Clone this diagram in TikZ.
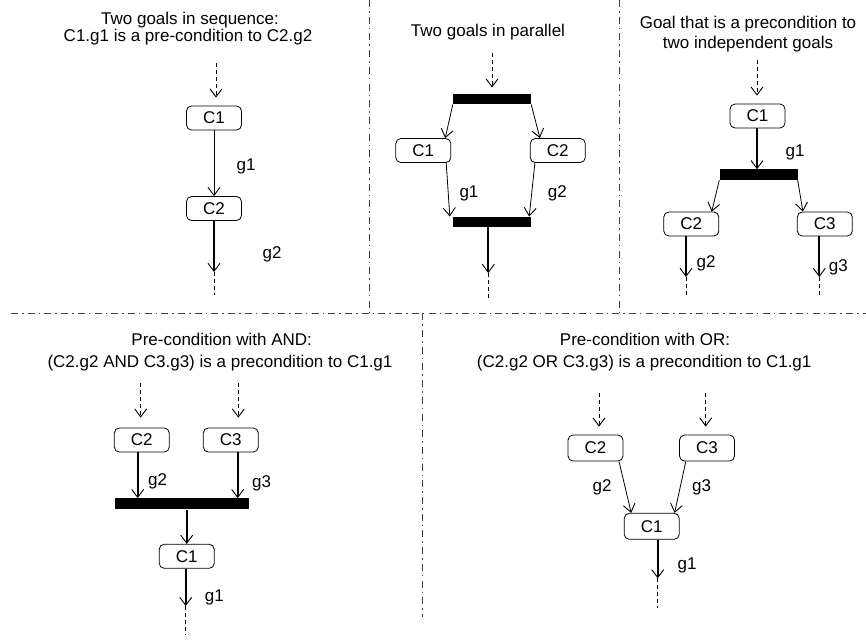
\documentclass[tikz,border=0pt]{standalone}
\usepackage{fontspec}
\setmainfont{Liberation Sans}
\usetikzlibrary{arrows.meta, positioning}

\begin{document}
\begin{tikzpicture}[x=1pt,y=-1pt,>={Straight Barb[length=8pt,width=12pt,line width=0.9pt]},
  font=\fontsize{17}{17}\selectfont,
  goal node/.style={draw,rounded corners=5pt,minimum width=55pt,minimum height=24pt,inner sep=0pt,line width=0.8pt},
  join bar/.style={fill=black,inner sep=0pt,minimum width=78pt,minimum height=10.5pt},
  flow/.style={->,line width=0.8pt},
  thick flow/.style={->,line width=1.8pt},
  in arrow/.style={->,line width=0.8pt,dash pattern=on 4pt off 3pt,shorten >=8pt},
  tail/.style={line width=0.8pt,dash pattern=on 4pt off 3pt},
  divider/.style={line width=1pt,black!75,dash pattern=on 7pt off 4pt on 1.5pt off 4.2pt},
  heading/.style={anchor=base,inner sep=0pt},
  every node/.append style={inner sep=0pt}]
  \useasboundingbox (0,0) rectangle (866,641);

  % dividers between the five cases
  \draw[divider] (11,313.3) -- (866,313.3);
  \draw[divider] (369,0) -- (369,313.3);
  \draw[divider] (619.5,0) -- (619.5,313.3);
  \draw[divider] (422.3,313.3) -- (422.3,617);

  % two goals in sequence
  \node[heading] (head1a) at (190,24) {Two goals in sequence:};
  \node[heading] (head1b) at (188,41.7) {C1.g1 is a pre-condition to C2.g2};
  \coordinate (sIn) at (216,63);
  \node[goal node] (sC1) at (214,118) {C1};
  \node[goal node] (sC2) at (214,208.5) {C2};
  \coordinate (sOut) at (214,272);
  \coordinate (sEnd) at (214,295);
  \draw[in arrow] (sIn) -- (sIn |- sC1.north);
  \path (sC1) edge[flow] node[pos=.55,xshift=32pt] {g1} (sC2);
  \path (sC2) edge[thick flow] node[pos=.65,xshift=58pt] {g2} (sOut);
  \draw[tail] (sOut) -- (sEnd);

  % two goals in parallel
  \node[heading] (head2) at (488,36.7) {Two goals in parallel};
  \coordinate (pIn) at (492,53);
  \node[join bar] (pTop) at (492,99) {};
  \node[goal node] (pC1) at (423.3,150.5) {C1};
  \node[goal node] (pC2) at (557.8,150.5) {C2};
  \node[join bar] (pBot) at (492,222) {};
  \coordinate (pOut) at (488.3,273);
  \coordinate (pEnd) at (488.3,298);
  \draw[in arrow,shorten >=6pt] (pIn) -- (pTop.north);
  \draw[flow] (pTop.south west) -- ([xshift=-6pt]pC1.north east);
  \draw[flow] (pTop.south east) -- ([xshift=10pt]pC2.north west);
  \path ([xshift=-5pt]pC1.south east) edge[flow] node[pos=.575,xshift=20.7pt] {g1} ([xshift=-3pt]pBot.north west);
  \path ([xshift=5pt]pC2.south west) edge[flow] node[pos=.575,xshift=25.7pt] {g2} ([xshift=-2pt]pBot.north east);
  \draw[thick flow] (pBot.south -| pOut) -- (pOut);
  \draw[tail] (pOut) -- (pEnd);

  % one goal before two independent goals
  \node[heading] (head3a) at (748,28.3) {Goal that is a precondition to};
  \node[heading] (head3b) at (748,48.3) {two independent goals};
  \coordinate (fIn) at (757,60);
  \node[goal node] (fC1) at (757.5,116) {C1};
  \node[join bar] (fBar) at (758.5,174.7) {};
  \node[goal node] (fC2) at (691.3,224) {C2};
  \node[goal node] (fC3) at (824.8,224) {C3};
  \coordinate (fOut2) at (686,277);
  \coordinate (fOut3) at (819.3,277);
  \draw[in arrow] (fIn) -- (fIn |- fC1.north);
  \path (fC1.south -| fIn) edge[thick flow] node[pos=.59,xshift=38pt] {g1} (fBar.north -| fIn);
  \draw[flow] (fBar.south west) -- ([xshift=-7.5pt]fC2.north east);
  \draw[flow] (fBar.south east) -- ([xshift=6pt]fC3.north west);
  \path (fC2.south -| fOut2) edge[thick flow] node[pos=.67,xshift=20pt] {g2} (fOut2);
  \path (fC3.south -| fOut3) edge[thick flow] node[pos=.76,xshift=19pt] {g3} (fOut3);
  \draw[tail] (fOut2) -- ++(0,18);
  \draw[tail] (fOut3) -- ++(0,18);

  % pre-condition with AND
  \node[heading] (head4a) at (221.7,345.7) {Pre-condition with AND:};
  \node[heading] (head4b) at (220,367.3) {(C2.g2 AND C3.g3) is a precondition to C1.g1};
  \coordinate (aIn2) at (140.7,383);
  \coordinate (aIn3) at (238.3,383);
  \node[goal node] (aC2) at (141.8,440) {C2};
  \node[goal node] (aC3) at (230.8,440) {C3};
  \node[join bar,minimum width=134pt,minimum height=11pt] (aBar) at (182.2,503.8) {};
  \node[goal node] (aC1) at (186.7,556.3) {C1};
  \coordinate (aOut) at (185.7,606);
  \coordinate (aEnd) at (185.7,635);
  \draw[in arrow,shorten >=10pt] (aIn2) -- (aIn2 |- aC2.north);
  \draw[in arrow,shorten >=10pt] (aIn3) -- (aIn3 |- aC3.north);
  \path (aC2.south -| 137.7,0) edge[thick flow] node[pos=.63,xshift=20pt] {g2} (aBar.north -| 137.7,0);
  \path (aC3.south -| 237.7,0) edge[thick flow] node[pos=.67,xshift=24pt] {g3} (aBar.north -| 237.7,0);
  \draw[thick flow] (aBar.south -| aC1) -- (aC1.north);
  \path (aC1.south -| aOut) edge[thick flow] node[pos=.76,xshift=28.6pt] {g1} (aOut);
  \draw[tail] (aOut) -- (aEnd);

  % pre-condition with OR
  \node[heading] (head5a) at (645,345.7) {Pre-condition with OR:};
  \node[heading] (head5b) at (644.2,367.5) {(C2.g2 OR C3.g3) is a precondition to C1.g1};
  \coordinate (oIn2) at (599,393);
  \coordinate (oIn3) at (705.7,393);
  \node[goal node,minimum height=26pt] (oC2) at (595.5,448) {C2};
  \node[goal node,minimum height=26pt] (oC3) at (707,448) {C3};
  \node[goal node,minimum height=26pt] (oC1) at (651.7,526.3) {C1};
  \coordinate (oOut) at (657.7,578.3);
  \coordinate (oEnd) at (657.7,608.3);
  \draw[in arrow] (oIn2) -- (oIn2 |- oC2.north);
  \draw[in arrow] (oIn3) -- (oIn3 |- oC3.north);
  \path ([xshift=-4.4pt]oC2.south east) edge[flow] node[pos=.51,xshift=-23.2pt] {g2} ([xshift=7.4pt]oC1.north west);
  \path ([xshift=6.7pt]oC3.south west) edge[flow] node[pos=.51,xshift=21.5pt] {g3} ([xshift=-5pt]oC1.north east);
  \path (oC1.south -| oOut) edge[thick flow] node[pos=.67,xshift=29.3pt] {g1} (oOut);
  \draw[tail] (oOut) -- (oEnd);
\end{tikzpicture}
\end{document}
